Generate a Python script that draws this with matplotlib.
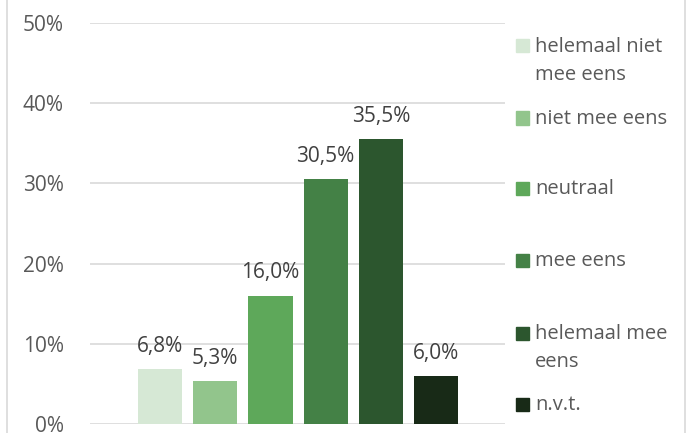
import matplotlib.pyplot as plt
from matplotlib.lines import Line2D
from matplotlib.patches import Rectangle

categories = ['helemaal niet\nmee eens', 'niet mee eens', 'neutraal', 'mee eens',
              'helemaal mee\neens', 'n.v.t.']
values = [6.8, 5.3, 16.0, 30.5, 35.5, 6.0]
colors = ['#d6e8d5', '#92c58c', '#5ea85a', '#448146', '#2c562e', '#182a17']
yticks = [0, 10, 20, 30, 40, 50]

plt.rcParams['font.family'] = ['Open Sans', 'DejaVu Sans']

W, H = 688, 433
fig = plt.figure(figsize=(W / 100, H / 100), dpi=100)
ax = fig.add_axes([90 / W, 9 / H, 415 / W, 401 / H])

x = list(range(len(values)))
bars = ax.bar(x, values, width=0.8, color=colors, zorder=3)

for xi, v in zip(x, values):
    ax.annotate(f'{v:.1f}%'.replace('.', ','), (xi, v), xytext=(0, 12.5),
                textcoords='offset points', ha='center', va='baseline',
                fontsize=15, color='#404040')

ax.set_xlim(-1.27, 6.25)
ax.set_ylim(0, 50)
ax.set_yticks(yticks)
ax.set_yticklabels([f'{t}%' for t in yticks])
ax.set_xticks([])
ax.tick_params(axis='y', length=0, pad=19, labelsize=15, labelcolor='#595959')
ax.grid(axis='y', color='#d9d9d9', linewidth=1.2, zorder=0)
for s in ax.spines.values():
    s.set_visible(False)
ax.set_axisbelow(True)

# legend, Excel style: marker aligned to first line
leg_y = [45.5, 118, 188.5, 260.5, 333, 404]
for lab, c, yy in zip(categories, colors, leg_y):
    fig.patches.append(Rectangle((516 / W, 1 - (yy + 6.5) / H), 13 / W, 13 / H,
                                 transform=fig.transFigure, color=c))
    for i, line in enumerate(lab.split('\n')):
        fig.text(535 / W, 1 - (yy + 1 + 28 * i) / H, line, ha='left', va='center',
                 fontsize=14.5, color='#595959')

# chart border
for xb in (7, 685):
    fig.add_artist(Line2D([xb / W, xb / W], [0, 1], transform=fig.transFigure,
                          color='#d9d9d9', linewidth=1.2))

fig.savefig('out.png', dpi=100)
